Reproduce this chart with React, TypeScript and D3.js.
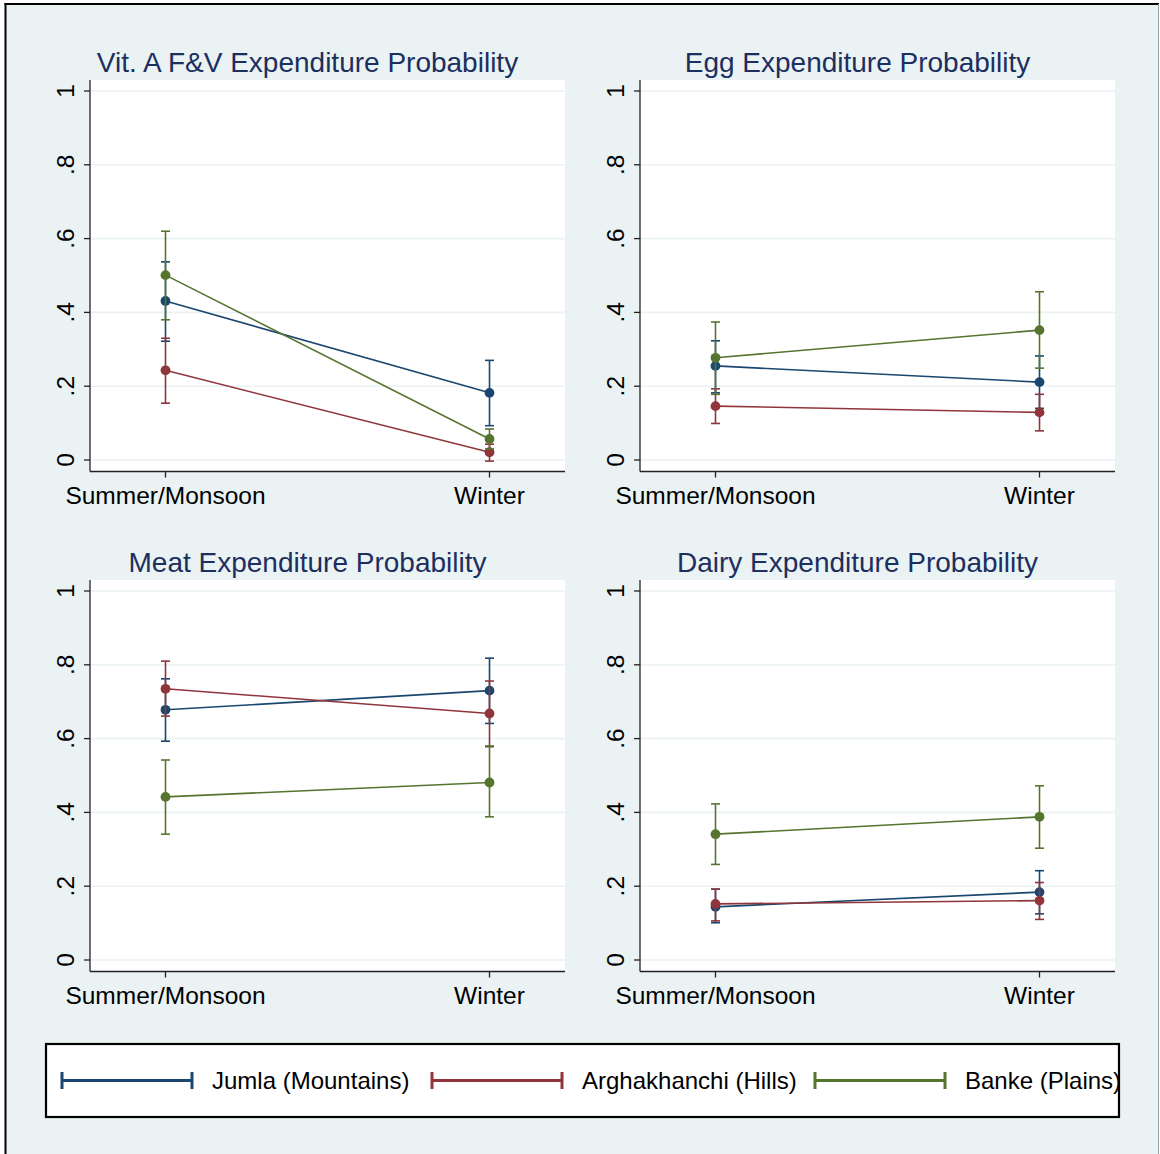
import React from "react";
import * as d3 from "d3";

const seasons = ["Summer/Monsoon", "Winter"];
const yTicks = [0, 0.2, 0.4, 0.6, 0.8, 1];
const yTickLabels = ["0", ".2", ".4", ".6", ".8", "1"];
const seriesNames = ["Jumla (Mountains)", "Arghakhanchi (Hills)", "Banke (Plains)"];
const seriesColors = ["#1a476f", "#90353b", "#55752f"];
const panelTitles = [
  "Vit. A F&V Expenditure Probability",
  "Egg Expenditure Probability",
  "Meat Expenditure Probability",
  "Dairy Expenditure Probability",
];

// [series][season] point estimates, lower and upper CI bounds, per panel
const vitAEst = [[0.431, 0.182], [0.243, 0.021], [0.501, 0.057]];
const vitALo = [[0.322, 0.093], [0.154, -0.003], [0.38, 0.03]];
const vitAHi = [[0.537, 0.27], [0.33, 0.043], [0.62, 0.084]];

const eggEst = [[0.255, 0.211], [0.146, 0.129], [0.277, 0.352]];
const eggLo = [[0.182, 0.14], [0.099, 0.079], [0.178, 0.249]];
const eggHi = [[0.323, 0.282], [0.193, 0.178], [0.374, 0.456]];

const meatEst = [[0.678, 0.73], [0.735, 0.668], [0.442, 0.481]];
const meatLo = [[0.593, 0.641], [0.661, 0.578], [0.341, 0.388]];
const meatHi = [[0.762, 0.818], [0.81, 0.756], [0.542, 0.58]];

const dairyEst = [[0.144, 0.184], [0.152, 0.161], [0.341, 0.388]];
const dairyLo = [[0.101, 0.125], [0.106, 0.11], [0.259, 0.303]];
const dairyHi = [[0.192, 0.242], [0.192, 0.21], [0.423, 0.472]];

const panelData = [
  { est: vitAEst, lo: vitALo, hi: vitAHi },
  { est: eggEst, lo: eggLo, hi: eggHi },
  { est: meatEst, lo: meatLo, hi: meatHi },
  { est: dairyEst, lo: dairyLo, hi: dairyHi },
];

const W = 1160;
const H = 1154;
const BG = "#eaf2f3";
const FONT = "'Liberation Sans', Arial, Helvetica, sans-serif";

const panelLayout = [
  { x0: 90, x1: 565, top: 80, bottom: 471.5 },
  { x0: 640, x1: 1115, top: 80, bottom: 471.5 },
  { x0: 90, x1: 565, top: 580, bottom: 971.5 },
  { x0: 640, x1: 1115, top: 580, bottom: 971.5 },
];

function Panel({ idx }: { idx: number }) {
  const L = panelLayout[idx];
  const D = panelData[idx];
  const x = d3.scalePoint<string>().domain(seasons).range([L.x0, L.x1]).padding(0.233);
  const y = d3.scaleLinear().domain([0, 1]).range([L.bottom - 11.5, L.top + 11]);
  const line = d3
    .line<number>()
    .x((_, i) => x(seasons[i]) as number)
    .y((v) => y(v));
  const cap = 4.5;
  const cx = (L.x0 + L.x1) / 2 - 20;
  return (
    <g>
      <rect x={L.x0} y={L.top} width={L.x1 - L.x0} height={L.bottom - L.top} fill="#ffffff" />
      {yTicks.map((t) => (
        <line key={"g" + t} x1={L.x0} x2={L.x1} y1={y(t)} y2={y(t)} stroke={BG} strokeWidth={1.6} />
      ))}
      <text x={cx} y={L.top - 8} textAnchor="middle" fontFamily={FONT} fontSize={28} fill="#1c2f5e">
        {panelTitles[idx]}
      </text>
      {/* axes */}
      <line x1={L.x0} x2={L.x0} y1={L.top} y2={L.bottom} stroke="#222" strokeWidth={1.3} />
      <line x1={L.x0} x2={L.x1} y1={L.bottom} y2={L.bottom} stroke="#222" strokeWidth={1.3} />
      {yTicks.map((t, i) => (
        <g key={"yt" + t}>
          <line x1={L.x0 - 6} x2={L.x0} y1={y(t)} y2={y(t)} stroke="#222" strokeWidth={1.3} />
          <text
            transform={`translate(${L.x0 - 16.5},${y(t)}) rotate(-90)`}
            textAnchor="middle"
            fontFamily={FONT}
            fontSize={24.5}
            fill="#000"
          >
            {yTickLabels[i]}
          </text>
        </g>
      ))}
      {seasons.map((s) => (
        <g key={"xt" + s}>
          <line x1={x(s)} x2={x(s)} y1={L.bottom} y2={L.bottom + 6} stroke="#222" strokeWidth={1.3} />
          <text x={x(s)} y={L.bottom + 32.5} textAnchor="middle" fontFamily={FONT} fontSize={24.5} fill="#000">
            {s}
          </text>
        </g>
      ))}
      {/* series */}
      {seriesNames.map((name, si) => (
        <g key={name}>
          {seasons.map((s, ti) => {
            const xx = x(s) as number;
            const lo = y(D.lo[si][ti]);
            const hi = y(D.hi[si][ti]);
            return (
              <g key={s} stroke={seriesColors[si]} strokeWidth={1.6}>
                <line x1={xx} x2={xx} y1={lo} y2={hi} />
                <line x1={xx - cap} x2={xx + cap} y1={lo} y2={lo} />
                <line x1={xx - cap} x2={xx + cap} y1={hi} y2={hi} />
              </g>
            );
          })}
          <path d={line(D.est[si]) as string} fill="none" stroke={seriesColors[si]} strokeWidth={1.6} />
          {seasons.map((s, ti) => (
            <circle key={"c" + s} cx={x(s)} cy={y(D.est[si][ti])} r={4.9} fill={seriesColors[si]} />
          ))}
        </g>
      ))}
    </g>
  );
}

const legendKeyStarts = [62, 432, 815];

function Legend() {
  const top = 1044;
  const bottom = 1117;
  const left = 46;
  const right = 1119;
  const ky = 1080.5;
  const keyLen = 130;
  return (
    <g>
      <rect x={left} y={top} width={right - left} height={bottom - top} fill="#ffffff" stroke="#000" strokeWidth={2.2} />
      {seriesNames.map((name, i) => {
        const x0 = legendKeyStarts[i];
        const x1 = x0 + keyLen;
        return (
          <g key={name}>
            <g stroke={seriesColors[i]} strokeWidth={3}>
              <line x1={x0} x2={x1} y1={ky} y2={ky} />
              <line x1={x0} x2={x0} y1={ky - 8.5} y2={ky + 8.5} />
              <line x1={x1} x2={x1} y1={ky - 8.5} y2={ky + 8.5} />
            </g>
            <text x={x1 + 20} y={1088.5} fontFamily={FONT} fontSize={24} fill="#000">
              {name}
            </text>
          </g>
        );
      })}
    </g>
  );
}

export default function App() {
  return (
    <div style={{ position: "absolute", left: 0, top: 0 }}>
      <svg width={W} height={H} viewBox={`0 0 ${W} ${H}`} style={{ display: "block" }}>
        <rect x={0} y={0} width={W} height={H} fill="#ffffff" />
        <rect x={5.5} y={4} width={1153} height={H + 10} fill={BG} />
        <line x1={5.5} x2={5.5} y1={3} y2={H} stroke="#000" strokeWidth={2} />
        <line x1={4.5} x2={1159} y1={4} y2={4} stroke="#000" strokeWidth={2} />
        <line x1={1158.5} x2={1158.5} y1={4} y2={H} stroke="#9aa" strokeWidth={1} />
        {panelTitles.map((_, i) => (
          <Panel key={i} idx={i} />
        ))}
        <Legend />
      </svg>
    </div>
  );
}
